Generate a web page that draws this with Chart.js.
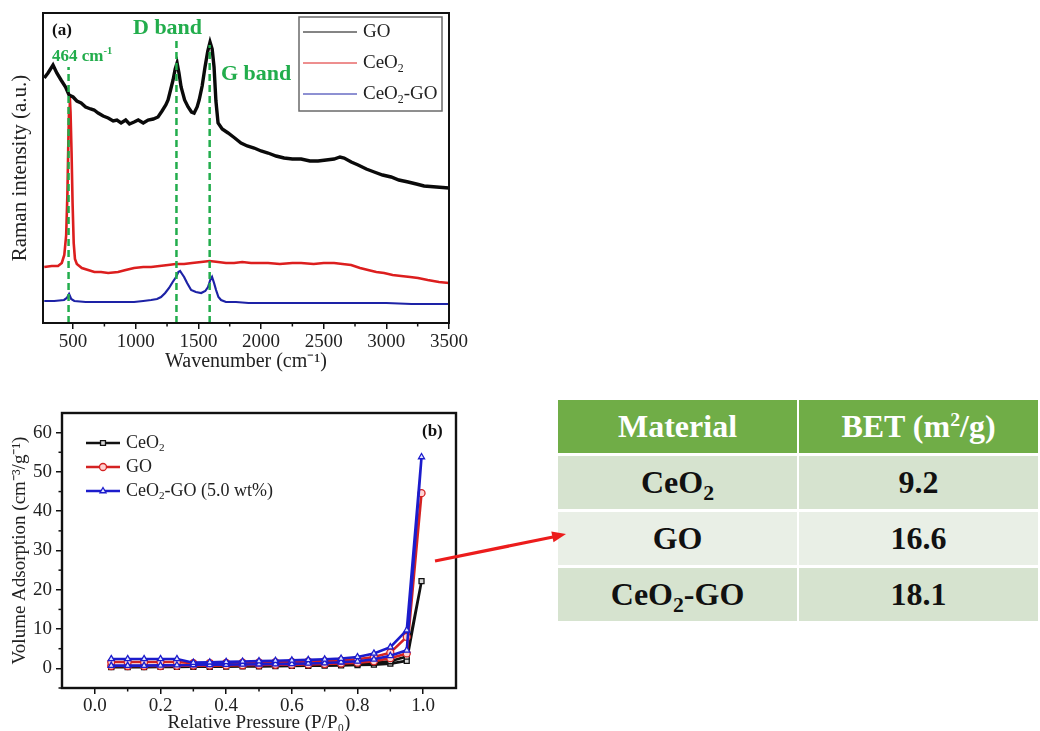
<!DOCTYPE html>
<html>
<head>
<meta charset="utf-8">
<title>Raman spectra, N2 isotherms and BET surface areas</title>
<script src="https://cdn.jsdelivr.net/npm/chart.js@4.4.1/dist/chart.umd.min.js"></script>
<style>
  html, body { margin: 0; padding: 0; background: #fff; width: 1040px; height: 731px; overflow: hidden; }
  .panel { position: absolute; }
  #ramanChart { left: 0; top: 0; }
  #isothermChart { left: 0; top: 390px; }
  #arrow { position: absolute; left: 0; top: 0; pointer-events: none; }
  #betTable {
    position: absolute; left: 556px; top: 397px;
    border-collapse: separate; border-spacing: 2px 3px;
    font-family: 'Liberation Serif', 'Times New Roman', serif;
    font-weight: bold; font-size: 32px;
  }
  #betTable th, #betTable td { padding: 0; text-align: center; vertical-align: middle; height: 53px; }
  #betTable th { background: #70ad47; color: #fff; font-weight: bold; }
  #betTable th:first-child { width: 246px; }
  #betTable th:last-child { width: 248px; }
  #betTable td { color: #111; }
  #betTable tr.mid td { background: #d6e3cf; }
  #betTable tr.light td { background: #e9efe6; }
  #betTable sub { font-size: 0.68em; vertical-align: -0.32em; line-height: 0; }
  #betTable sup { font-size: 0.62em; vertical-align: 0.55em; line-height: 0; }
</style>
</head>
<body>
<canvas id="ramanChart" class="panel" width="470" height="375"></canvas>
<canvas id="isothermChart" class="panel" width="470" height="341"></canvas>
<table id="betTable"></table>
<svg id="arrow" width="1040" height="731">
  <line x1="435" y1="561" x2="553" y2="537" stroke="#ec1c1c" stroke-width="3.2"/>
  <polygon points="566,534 551.3,531.6 553.5,542.2" fill="#ec1c1c"/>
</svg>

<script>
// ---------- (a) Raman spectra (intensity in arbitrary units) ----------
const goWavenumber = [
  270, 300, 340, 370, 404, 440, 468, 500, 530, 564,
  600, 640, 668, 700, 740, 780, 820, 850, 883, 920,
  950, 987, 1020, 1060, 1099, 1140, 1178, 1210, 1240, 1258,
  1280, 1298, 1315, 1330, 1345, 1362, 1390, 1418, 1445, 1466,
  1490, 1506, 1530, 1553, 1575, 1593, 1610, 1625, 1640, 1657,
  1690, 1737, 1790, 1840, 1890, 1945, 2000, 2056, 2120, 2184,
  2250, 2320, 2390, 2455, 2520, 2583, 2630, 2663, 2720, 2775,
  2840, 2903, 2970, 3038, 3100, 3174, 3240, 3301, 3400, 3500
];
const goIntensity = [
  245, 250, 258, 250, 243, 236, 228, 226, 222, 220,
  216, 214, 213, 210, 207, 205, 202, 203, 200, 203,
  199, 201, 203, 200, 203, 204, 206, 212, 218, 223,
  234, 243, 254, 260, 250, 236, 223, 216, 211, 210,
  216, 223, 237, 256, 272, 281, 274, 256, 222, 200,
  194, 190, 185, 180, 177, 175, 172, 170, 167, 165,
  164, 164, 162, 162, 163, 164, 166, 165, 161, 158,
  154, 151, 148, 146, 143, 141, 139, 137, 136, 135
];
const ceo2Wavenumber = [
  270, 330, 380, 410, 430, 445, 455, 462, 468, 474,
  480, 488, 496, 505, 515, 530, 570, 620, 670, 723,
  780, 859, 920, 987, 1060, 1123, 1190, 1258, 1320, 1386,
  1450, 1522, 1590, 1657, 1720, 1785, 1850, 1920, 2000, 2056,
  2150, 2250, 2320, 2420, 2500, 2583, 2650, 2719, 2790, 2854,
  2920, 2982, 3050, 3118, 3190, 3253, 3330, 3420, 3500
];
const ceo2Intensity = [
  56, 57, 57, 60, 68, 88, 130, 180, 215, 226,
  210, 170, 120, 80, 64, 59, 55, 53, 51, 51,
  50, 51, 53, 55, 56, 56, 57, 58, 59, 59,
  60, 61, 62, 61, 60, 60, 61, 60, 60, 60,
  59, 60, 60, 59, 60, 60, 59, 58, 55, 53,
  51, 50, 48, 47, 46, 45, 43, 41, 40
];
const compositeWavenumber = [
  270, 350, 428, 450, 468, 485, 510, 600, 700, 800,
  900, 987, 1060, 1123, 1170, 1202, 1235, 1266, 1295, 1322,
  1340, 1354, 1370, 1386, 1410, 1442, 1480, 1522, 1555, 1577,
  1595, 1609, 1625, 1641, 1660, 1681, 1720, 1800, 1900, 2000,
  2200, 2400, 2600, 2800, 3000, 3200, 3400, 3500
];
const compositeIntensity = [
  22, 22, 23, 25, 29, 24, 22, 21, 21, 21,
  21, 21, 22, 23, 24, 26, 30, 35, 41, 46,
  51, 52, 49, 46, 40, 33, 31, 30, 32, 36,
  43, 46, 40, 33, 26, 23, 21, 21, 20, 20,
  20, 20, 20, 20, 20, 19, 19, 19
];
const ramanLabels = ['GO', 'CeO₂', 'CeO₂-GO'];
const bandPositions = [464, 1325, 1590];   // 464 cm-1, D band, G band
const bandTops = [256, 285, 278];
const wavenumberTicks = [500, 1000, 1500, 2000, 2500, 3000, 3500];

// ---------- (b) N2 adsorption-desorption isotherms ----------
const adsorptionPressure = [0.05, 0.10, 0.15, 0.20, 0.25, 0.30, 0.35, 0.40, 0.45, 0.50,
  0.55, 0.60, 0.65, 0.70, 0.75, 0.80, 0.85, 0.90, 0.95, 0.995];
const desorptionPressure = [0.95, 0.90, 0.85, 0.80, 0.75, 0.70, 0.65, 0.60, 0.55, 0.50,
  0.45, 0.40, 0.35, 0.30, 0.25, 0.20, 0.15, 0.10, 0.05];
const ceo2Adsorbed = [0.3, 0.3, 0.3, 0.35, 0.35, 0.4, 0.4, 0.45, 0.5, 0.5,
  0.55, 0.6, 0.65, 0.7, 0.75, 0.85, 0.95, 1.2, 1.9, 22.2];
const ceo2Desorbed = [3.0, 1.8, 1.4, 1.2, 1.1, 1.0, 0.95, 0.9, 0.85, 0.8,
  0.8, 0.75, 0.7, 0.7, 0.6, 0.6, 0.6, 0.55, 0.5];
const goAdsorbed = [0.6, 0.6, 0.6, 0.6, 0.65, 0.7, 0.7, 0.75, 0.8, 0.85,
  0.9, 0.95, 1.0, 1.1, 1.25, 1.45, 1.8, 2.6, 3.8, 44.6];
const goDesorbed = [8.0, 4.0, 2.9, 2.3, 2.0, 1.85, 1.75, 1.65, 1.6, 1.5,
  1.45, 1.4, 1.35, 1.3, 1.6, 1.6, 1.6, 1.6, 1.6];
const compositeAdsorbed = [0.7, 0.7, 0.7, 0.75, 0.8, 0.85, 0.9, 0.95, 1.0, 1.05,
  1.1, 1.15, 1.25, 1.35, 1.55, 1.8, 2.3, 3.2, 4.6, 53.8];
const compositeDesorbed = [9.7, 5.4, 3.8, 2.9, 2.5, 2.3, 2.15, 2.05, 1.95, 1.85,
  1.75, 1.65, 1.55, 1.45, 2.4, 2.4, 2.4, 2.4, 2.4];
const isothermLabels = ['CeO₂', 'GO', 'CeO₂-GO (5.0 wt%)'];
const pressureTicks = [0.0, 0.2, 0.4, 0.6, 0.8, 1.0];
const volumeTicks = [0, 10, 20, 30, 40, 50, 60];

// ---------- BET table ----------
const betMaterials = ['CeO₂', 'GO', 'CeO₂-GO'];
const betAreas = ['9.2', '16.6', '18.1'];

const SERIF = "'Liberation Serif', 'Times New Roman', serif";
const GREEN = '#22ad4c';

// pair x/y arrays into points
function toPoints(xs, ys) {
  return xs.map((x, i) => ({ x: x, y: ys[i] }));
}

// draws text with unicode sub/superscripts rendered as smaller shifted glyphs
const SUB = { '₀': '0', '₁': '1', '₂': '2', '₃': '3' };
const SUP = { '⁻': '-', '¹': '1', '²': '2', '³': '3' };
function drawRichText(ctx, text, x, y, size, weight) {
  let cx = x;
  ctx.textAlign = 'left';
  ctx.textBaseline = 'middle';
  for (const ch of text) {
    let glyph = ch, fs = size, dy = 0;
    if (SUB[ch]) { glyph = SUB[ch]; fs = size * 0.62; dy = size * 0.3; }
    else if (SUP[ch]) { glyph = SUP[ch]; fs = size * 0.62; dy = -size * 0.32; }
    ctx.font = `${weight} ${fs}px ${SERIF}`;
    ctx.fillText(glyph, cx, y + dy);
    cx += ctx.measureText(glyph).width;
  }
}

// force the major ticks onto the given values
function fixedTicks(values) {
  return scale => { scale.ticks = values.map(v => ({ value: v })); };
}

// box round the plot area
function framePlugin(width) {
  return {
    id: 'frame',
    afterDatasetsDraw(chart) {
      const { left, top, right, bottom } = chart.chartArea;
      const ctx = chart.ctx;
      ctx.save();
      ctx.strokeStyle = '#111';
      ctx.lineWidth = width;
      ctx.strokeRect(left, top, right - left, bottom - top);
      ctx.restore();
    }
  };
}

// short minor ticks between the labelled ones
function minorTickPlugin(minor) {
  return {
    id: 'minorTicks',
    afterDraw(chart) {
      const ctx = chart.ctx;
      ctx.save();
      ctx.strokeStyle = '#111';
      ctx.lineWidth = 1.5;
      Object.keys(minor).forEach(axisId => {
        const scale = chart.scales[axisId];
        minor[axisId].forEach(v => {
          const p = scale.getPixelForValue(v);
          ctx.beginPath();
          if (scale.isHorizontal()) {
            ctx.moveTo(p, scale.top);
            ctx.lineTo(p, scale.top + 3.5);
          } else {
            ctx.moveTo(scale.right, p);
            ctx.lineTo(scale.right - 3.5, p);
          }
          ctx.stroke();
        });
      });
      ctx.restore();
    }
  };
}

const tickFont = { family: SERIF, size: 19 };

// ================= chart (a) =================
const bandDatasets = bandPositions.map((pos, i) => ({
  label: 'band' + i,
  data: [{ x: pos, y: 0 }, { x: pos, y: bandTops[i] }],
  showLine: true,
  borderColor: GREEN,
  borderWidth: 2.5,
  borderDash: [7, 4],
  pointRadius: 0,
  order: 0
}));

const ramanLegendPlugin = {
  id: 'ramanLegend',
  afterDraw(chart) {
    const ctx = chart.ctx;
    ctx.save();
    ctx.strokeStyle = '#6a6a6a';
    ctx.lineWidth = 1.5;
    ctx.strokeRect(299, 17, 143, 94);
    chart.data.datasets.filter(ds => ds.inLegend).forEach((ds, i) => {
      const y = 32 + i * 31;
      ctx.strokeStyle = ds.borderColor;
      ctx.lineWidth = 1;
      ctx.beginPath();
      ctx.moveTo(303, y);
      ctx.lineTo(357, y);
      ctx.stroke();
      ctx.fillStyle = '#222';
      drawRichText(ctx, ds.label, 363, y, 19, 'normal');
    });
    ctx.restore();
  }
};

const ramanNotesPlugin = {
  id: 'ramanNotes',
  afterDraw(chart) {
    const ctx = chart.ctx;
    ctx.save();
    ctx.fillStyle = '#111';
    drawRichText(ctx, '(a)', 52, 31, 17, 'bold');
    ctx.fillStyle = GREEN;
    drawRichText(ctx, 'D band', 133, 28, 22, 'bold');
    drawRichText(ctx, 'G band', 221, 74, 22, 'bold');
    drawRichText(ctx, '464 cm⁻¹', 52, 57, 17, 'bold');
    ctx.restore();
  }
};

new Chart(document.getElementById('ramanChart'), {
  type: 'scatter',
  data: {
    datasets: [
      ...bandDatasets,
      { label: ramanLabels[0], data: toPoints(goWavenumber, goIntensity), showLine: true,
        borderColor: '#0a0a0a', borderWidth: 3.4, pointRadius: 0, order: 1, inLegend: true },
      { label: ramanLabels[1], data: toPoints(ceo2Wavenumber, ceo2Intensity), showLine: true,
        borderColor: '#dc1e1e', borderWidth: 2.6, pointRadius: 0, order: 2, inLegend: true },
      { label: ramanLabels[2], data: toPoints(compositeWavenumber, compositeIntensity), showLine: true,
        borderColor: '#1d22a6', borderWidth: 2.2, pointRadius: 0, order: 3, inLegend: true }
    ]
  },
  options: {
    responsive: false,
    animation: false,
    layout: { padding: { left: 0, top: 13, right: 21, bottom: 0 } },
    plugins: { legend: { display: false }, tooltip: { enabled: false } },
    scales: {
      x: {
        type: 'linear', min: 260, max: 3500,
        afterBuildTicks: fixedTicks(wavenumberTicks),
        afterFit: s => { s.height = 52; },
        border: { display: false },
        grid: { display: true, drawOnChartArea: false, drawTicks: true, tickLength: 6, color: '#111', lineWidth: 1.5 },
        ticks: { autoSkip: false, maxRotation: 0, padding: 2, font: tickFont, color: '#222',
          callback: v => String(v) },
        title: { display: true, text: 'Wavenumber (cm⁻¹)', font: { family: SERIF, size: 20 }, color: '#222',
          padding: { top: 0, bottom: 1 } }
      },
      y: {
        min: 0, max: 310,
        afterFit: s => { s.width = 43; },
        border: { display: false },
        grid: { display: false },
        ticks: { display: false },
        title: { display: true, text: 'Raman intensity (a.u.)', font: { family: SERIF, size: 21 }, color: '#222',
          padding: { top: 8, bottom: 0 } }
      }
    }
  },
  plugins: [framePlugin(2), minorTickPlugin({ x: [750, 1250, 1750, 2250, 2750, 3250] }),
    ramanLegendPlugin, ramanNotesPlugin]
});

// ================= chart (b) =================
const isothermStyles = [
  { color: '#111111', fill: '#d8d8d8', pointStyle: 'rect', order: 2 },
  { color: '#d42222', fill: '#ffd2d2', pointStyle: 'circle', order: 1 },
  { color: '#1c1ccc', fill: '#dfe4ff', pointStyle: 'triangle', order: 0 }
];
const isothermSeries = [
  [ceo2Adsorbed, ceo2Desorbed],
  [goAdsorbed, goDesorbed],
  [compositeAdsorbed, compositeDesorbed]
];

const isothermDatasets = isothermSeries.map(([ads, des], i) => ({
  label: isothermLabels[i],
  data: toPoints(adsorptionPressure, ads).concat(toPoints(desorptionPressure, des)),
  showLine: true,
  borderColor: isothermStyles[i].color,
  borderWidth: 2.6,
  pointStyle: isothermStyles[i].pointStyle,
  pointRadius: 3.5,
  pointBorderWidth: 1.3,
  pointBorderColor: isothermStyles[i].color,
  pointBackgroundColor: isothermStyles[i].fill,
  order: isothermStyles[i].order
}));

const isothermLegendPlugin = {
  id: 'isothermLegend',
  afterDraw(chart) {
    const ctx = chart.ctx;
    ctx.save();
    chart.data.datasets.forEach((ds, i) => {
      const y = 53 + i * 24;
      ctx.strokeStyle = ds.borderColor;
      ctx.lineWidth = 2.6;
      ctx.beginPath();
      ctx.moveTo(86, y);
      ctx.lineTo(120, y);
      ctx.stroke();
      ctx.fillStyle = ds.pointBackgroundColor;
      ctx.lineWidth = 1.3;
      Chart.helpers.drawPoint(ctx, { pointStyle: ds.pointStyle, radius: 3.5, rotation: 0, borderWidth: 1.3 }, 103, y);
      ctx.fillStyle = '#222';
      drawRichText(ctx, ds.label, 126, y, 18, 'normal');
    });
    ctx.fillStyle = '#111';
    drawRichText(ctx, '(b)', 422, 42, 17, 'bold');
    ctx.restore();
  }
};

new Chart(document.getElementById('isothermChart'), {
  type: 'scatter',
  data: { datasets: isothermDatasets },
  options: {
    responsive: false,
    animation: false,
    layout: { padding: { left: 0, top: 23, right: 14, bottom: 0 } },
    plugins: { legend: { display: false }, tooltip: { enabled: false } },
    scales: {
      x: {
        type: 'linear', min: -0.1, max: 1.1,
        afterBuildTicks: fixedTicks(pressureTicks),
        afterFit: s => { s.height = 43; },
        border: { display: false },
        grid: { display: true, drawOnChartArea: false, drawTicks: true, tickLength: 6, color: '#111', lineWidth: 1.5 },
        ticks: { autoSkip: false, maxRotation: 0, padding: 1, font: tickFont, color: '#222',
          callback: v => v.toFixed(1) },
        title: { display: true, text: 'Relative Pressure (P/P₀)', font: { family: SERIF, size: 19 }, color: '#222',
          padding: { top: 0, bottom: -3 } }
      },
      y: {
        min: -5, max: 65,
        afterBuildTicks: fixedTicks(volumeTicks),
        afterFit: s => { s.width = 62; },
        border: { display: false },
        grid: { display: true, drawOnChartArea: false, drawTicks: true, tickLength: 6, color: '#111', lineWidth: 1.5 },
        ticks: { autoSkip: false, padding: 4, font: tickFont, color: '#222' },
        title: { display: true, text: 'Volume Adsorption (cm⁻³/g⁻¹)', font: { family: SERIF, size: 19 }, color: '#222',
          padding: { top: 9, bottom: 0 } }
      }
    }
  },
  plugins: [framePlugin(2.4),
    minorTickPlugin({ x: [0.1, 0.3, 0.5, 0.7, 0.9], y: [-5, 5, 15, 25, 35, 45, 55] }),
    isothermLegendPlugin]
});

// ================= BET table =================
const table = document.getElementById('betTable');
let rows = '<tr><th>Material</th><th>BET (m<sup>2</sup>/g)</th></tr>';
betMaterials.forEach((name, i) => {
  const cls = i % 2 === 0 ? 'mid' : 'light';
  rows += `<tr class="${cls}"><td>${name.replace(/₂/g, '<sub>2</sub>')}</td><td>${betAreas[i]}</td></tr>`;
});
table.innerHTML = rows;
</script>
</body>
</html>
